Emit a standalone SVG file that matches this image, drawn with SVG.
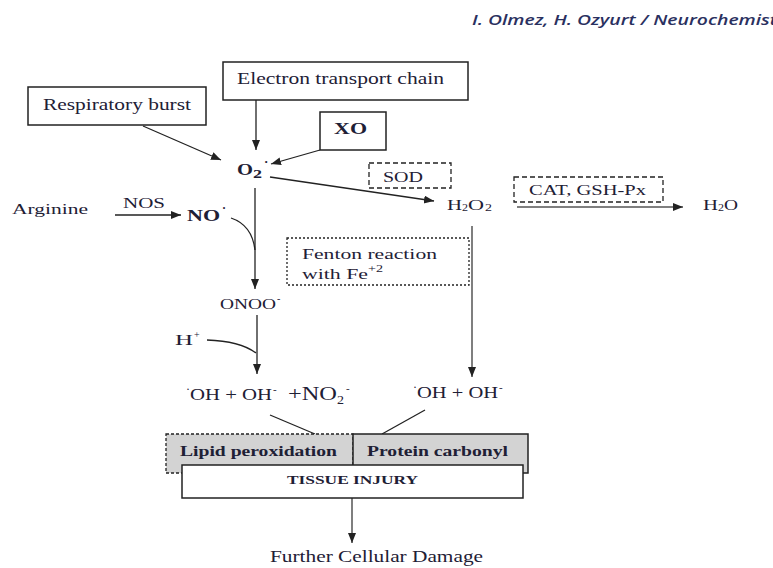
<svg xmlns="http://www.w3.org/2000/svg" width="773" height="568" viewBox="0 0 773 568">
<style>
.t{font-family:"Liberation Serif","Times New Roman",serif;fill:#1e2035}
.b{font-weight:bold}
.box{fill:#fff;stroke:#222;stroke-width:1.5}
.dash{fill:none;stroke:#222;stroke-width:1.3;stroke-dasharray:5 3}
.dot{fill:none;stroke:#222;stroke-width:1.3;stroke-dasharray:2 2}
.c{stroke:#222;stroke-width:1.3;fill:none}
.g{stroke:#555;stroke-width:1.5;fill:none}
.arr{marker-end:url(#ah)}
</style>
<defs>
<marker id="ah" markerUnits="userSpaceOnUse" markerWidth="11" markerHeight="9" refX="10" refY="4" orient="auto">
<path d="M0,0 L10,4 L0,8 z" fill="#222"/>
</marker>
</defs>
<rect width="773" height="568" fill="#fff"/>
<text x="472" y="25" font-family="'Open Sans','Liberation Sans',sans-serif" font-style="italic" font-weight="600" font-size="14" fill="#2a3060" textLength="305" lengthAdjust="spacingAndGlyphs">I. Olmez, H. Ozyurt / Neurochemist</text>

<g id="connectors">
<line class="c arr" x1="256" y1="100" x2="256" y2="150"/>
<line class="c arr" x1="143" y1="126" x2="221" y2="160"/>
<line class="c arr" x1="320" y1="150" x2="271" y2="164"/>
<line class="c arr" x1="270" y1="177" x2="434" y2="201"/>
<line class="c arr" x1="115" y1="215" x2="181" y2="215"/>
<path class="c" d="M231,218 Q252,225 255,250"/>
<line class="c arr" x1="255" y1="188" x2="255" y2="289"/>
<line class="g arr" x1="472" y1="226" x2="472" y2="377"/>
<line class="g arr" x1="517" y1="207" x2="683" y2="207"/>
<line class="c arr" x1="257" y1="315" x2="257" y2="374"/>
<path class="c" d="M207,340 Q240,341 256,353"/>
<line class="c" x1="270" y1="415" x2="315" y2="434"/>
<line class="c" x1="425" y1="410" x2="382" y2="434"/>
<line class="g arr" x1="352" y1="498" x2="352" y2="543"/>
</g>

<g id="respiratory-burst">
<rect class="box" x="28" y="87" width="178" height="38"/>
<text class="t" x="43" y="110" font-size="16" textLength="148" lengthAdjust="spacingAndGlyphs">Respiratory burst</text>
</g>
<g id="electron-transport-chain">
<rect class="box" x="223" y="62" width="245" height="38"/>
<text class="t" x="237" y="84" font-size="16" textLength="207" lengthAdjust="spacingAndGlyphs">Electron transport chain</text>
</g>
<g id="xo">
<rect class="box" x="320" y="112" width="66" height="38"/>
<text class="t b" x="334" y="134" font-size="16" textLength="33" lengthAdjust="spacingAndGlyphs">XO</text>
</g>
<g id="o2">
<text class="t b" x="237" y="175" font-size="17" textLength="16" lengthAdjust="spacingAndGlyphs">O</text>
<text class="t b" x="253" y="178" font-size="13" textLength="9" lengthAdjust="spacingAndGlyphs">2</text>
<text class="t b" x="264" y="166" font-size="13">·</text>
</g>
<g id="sod">
<rect class="dash" x="369" y="163" width="82" height="25"/>
<text class="t" x="383" y="182" font-size="15" textLength="40" lengthAdjust="spacingAndGlyphs">SOD</text>
</g>
<g id="h2o2">
<text class="t" x="447" y="210" font-size="15" textLength="15" lengthAdjust="spacingAndGlyphs">H</text>
<text class="t" x="462" y="211" font-size="11" textLength="6" lengthAdjust="spacingAndGlyphs">2</text>
<text class="t" x="468" y="210" font-size="15" textLength="16" lengthAdjust="spacingAndGlyphs">O</text>
<text class="t" x="485" y="211" font-size="11" textLength="7" lengthAdjust="spacingAndGlyphs">2</text>
</g>
<g id="cat-gsh">
<rect class="dash" x="514" y="177" width="149" height="25"/>
<text class="t" x="529" y="195" font-size="15" textLength="117" lengthAdjust="spacingAndGlyphs">CAT, GSH-Px</text>
</g>
<g id="h2o">
<text class="t" x="703" y="210" font-size="15" textLength="15" lengthAdjust="spacingAndGlyphs">H</text>
<text class="t" x="718" y="211" font-size="11" textLength="6" lengthAdjust="spacingAndGlyphs">2</text>
<text class="t" x="724" y="210" font-size="15" textLength="14" lengthAdjust="spacingAndGlyphs">O</text>
</g>
<g id="arginine">
<text class="t" x="12" y="214" font-size="15" textLength="76" lengthAdjust="spacingAndGlyphs">Arginine</text>
</g>
<g id="nos">
<text class="t" x="123" y="208" font-size="15" textLength="42" lengthAdjust="spacingAndGlyphs">NOS</text>
</g>
<g id="no">
<text class="t b" x="187" y="221" font-size="16" textLength="33" lengthAdjust="spacingAndGlyphs">NO</text>
<text class="t b" x="222" y="212" font-size="12">·</text>
</g>
<g id="fenton">
<rect class="dot" x="287" y="238" width="182" height="47"/>
<text class="t" x="302" y="259" font-size="15" textLength="135" lengthAdjust="spacingAndGlyphs">Fenton reaction</text>
<text class="t" x="302" y="279" font-size="15" textLength="66" lengthAdjust="spacingAndGlyphs">with Fe</text>
<text class="t" x="368" y="272" font-size="10" textLength="15" lengthAdjust="spacingAndGlyphs">+2</text>
</g>
<g id="onoo">
<text class="t" x="220" y="309" font-size="15" textLength="56" lengthAdjust="spacingAndGlyphs">ONOO</text>
<text class="t" x="277" y="302" font-size="10">-</text>
</g>
<g id="h-plus">
<text class="t" x="175" y="345" font-size="15" textLength="18" lengthAdjust="spacingAndGlyphs">H</text>
<text class="t" x="194" y="338" font-size="10">+</text>
</g>
<g id="products-left">
<text class="t" x="186" y="393" font-size="12">·</text>
<text class="t" x="190" y="400" font-size="16" textLength="82" lengthAdjust="spacingAndGlyphs">OH + OH</text>
<text class="t" x="273" y="393" font-size="11">-</text>
<text class="t" x="288" y="400" font-size="18" textLength="49" lengthAdjust="spacingAndGlyphs">+NO</text>
<text class="t" x="337" y="404" font-size="12" textLength="7" lengthAdjust="spacingAndGlyphs">2</text>
<text class="t" x="346" y="392" font-size="11">-</text>
</g>
<g id="products-right">
<text class="t" x="413" y="391" font-size="12">·</text>
<text class="t" x="417" y="398" font-size="16" textLength="81" lengthAdjust="spacingAndGlyphs">OH + OH</text>
<text class="t" x="499" y="391" font-size="11">-</text>
</g>
<g id="lipid-peroxidation">
<rect x="166" y="434" width="187" height="39" fill="#d3d3d3" stroke="#222" stroke-width="1.3" stroke-dasharray="3 2"/>
<text class="t b" x="180" y="456" font-size="15" textLength="157" lengthAdjust="spacingAndGlyphs">Lipid peroxidation</text>
</g>
<g id="protein-carbonyl">
<rect x="353" y="434" width="175" height="39" fill="#d3d3d3" stroke="#222" stroke-width="1.5"/>
<text class="t b" x="367" y="456" font-size="15" textLength="141" lengthAdjust="spacingAndGlyphs">Protein carbonyl</text>
</g>
<g id="tissue-injury">
<rect class="box" x="182" y="465" width="341" height="33"/>
<text class="t b" x="287" y="484" font-size="13" textLength="131" lengthAdjust="spacingAndGlyphs">TISSUE INJURY</text>
</g>
<g id="further-damage">
<text class="t" x="270" y="562" font-size="16" textLength="213" lengthAdjust="spacingAndGlyphs">Further Cellular Damage</text>
</g>
</svg>
